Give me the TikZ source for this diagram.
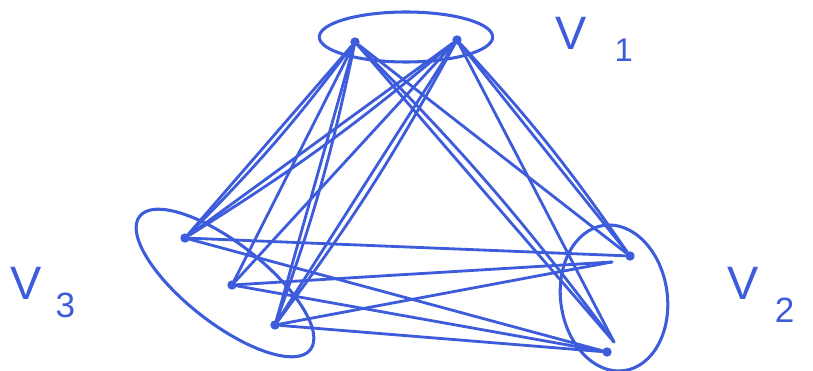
\documentclass[tikz,border=0pt]{standalone}
\usepackage{fontspec}
\setmainfont{Liberation Sans}
\usetikzlibrary{positioning,shapes.geometric}
\definecolor{pen}{HTML}{3D5CDB}
\tikzset{
  vertex/.style={circle, fill=pen, inner sep=0pt, minimum size=8pt},
  part/.style={ellipse, draw=pen, line width=2.6pt, inner sep=0pt},
  edge/.style={draw=pen, line width=2.4pt, line cap=round},
  setlabel/.style={text=pen, font=\fontsize{40}{42}\selectfont,
    inner sep=0pt, anchor=base west}
}

\begin{document}
\begin{tikzpicture}[x=0.03cm, y=-0.03cm]
  \useasboundingbox (0,0) rectangle (813,371);

  % the three parts
  \node[part, minimum width=5.2cm, minimum height=1.5cm] (V1) at (406,37) {};
  \node[part, minimum width=6.5cm, minimum height=2.4cm, rotate=-38]
    (V3) at (225,283) {};
  \node[part, minimum width=3.2cm, minimum height=4.4cm, rotate=8]
    (V2) at (614,298) {};

  % vertices
  \node[vertex] (v1a) at (355,42) {};
  \node[vertex] (v1b) at (457,40) {};
  \node[vertex] (v3a) at (185,238) {};
  \node[vertex] (v3b) at (232,285) {};
  \node[vertex] (v3c) at (275,325) {};
  \node[vertex] (v2a) at (630,256) {};
  \node[vertex] (v2b) at (607,352) {};
  \coordinate (v2a') at (612,262);
  \coordinate (v2b') at (614,342);

  % edges between the parts
  \foreach \s/\t in {v1a/v3a, v1a/v3b, v1a/v3c, v1b/v3a, v1b/v3b, v1b/v3c,
                     v1a/v2a, v1b/v2a, v1a/v2b', v1b/v2b',
                     v3a/v2a, v3a/v2b, v3b/v2a', v3b/v2b, v3c/v2a', v3c/v2b}
    \draw[edge] (\s) -- (\t);
  % second pen strokes
  \foreach \s/\t in {v1a/v3a, v1b/v3a, v1a/v3c, v1b/v3c, v1b/v2a, v1a/v2b'}
    \draw[edge] (\s) to[bend left=4] (\t);

  % labels
  \node[setlabel] (lV1) at (555,50)
    {V\hspace{24pt}\raisebox{-10pt}{\fontsize{28}{30}\selectfont 1}};
  \node[setlabel] (lV3) at (10,300)
    {V\hspace{12pt}\raisebox{-15pt}{\fontsize{30}{32}\selectfont 3}};
  \node[setlabel] (lV2) at (727,300)
    {V\hspace{14pt}\raisebox{-19pt}{\fontsize{30}{32}\selectfont 2}};
\end{tikzpicture}
\end{document}
